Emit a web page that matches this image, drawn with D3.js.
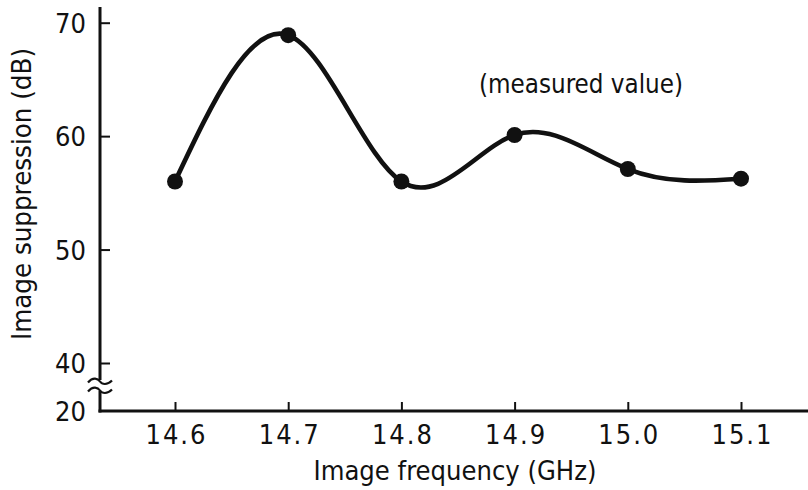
<!DOCTYPE html>
<html>
<head>
<meta charset="utf-8">
<script src="https://cdn.jsdelivr.net/npm/d3@7"></script>
<style>
  html, body { margin: 0; padding: 0; background: #fff; }
  svg { display: block; }
  text { font-family: "DejaVu Sans Condensed", "DejaVu Sans", sans-serif; font-stretch: condensed; fill: #111; }
</style>
</head>
<body>
<svg id="chart" width="808" height="490"></svg>
<script>
// Measured image suppression versus image frequency
const frequencies = [14.6, 14.7, 14.8, 14.9, 15.0, 15.1];      // GHz
const suppression = [56.0, 68.9, 56.0, 60.1, 57.1, 56.25];     // dB
const xTickValues = [14.6, 14.7, 14.8, 14.9, 15.0, 15.1];
const xTickLabels = ["14.6", "14.7", "14.8", "14.9", "15.0", "15.1"];
const yTickValues = [20, 40, 50, 60, 70];
const yTickLabels = ["20", "40", "50", "60", "70"];

const svg = d3.select("#chart");
const W = 808, H = 490;
const axisX = 100, axisY = 411;
const FS = 27;

const x = d3.scaleLinear().domain([14.6, 15.1]).range([175, 741]);
// broken axis: 20 sits right at the origin, the 40–70 span is linear
const y = d3.scaleLinear().domain([20, 40, 70]).range([axisY, 363, 22.7]);

const ink = "#111";

// x axis
const xAxis = d3.axisBottom(x)
  .tickValues(xTickValues)
  .tickFormat((d, i) => xTickLabels[i])
  .tickSize(-9)
  .tickPadding(24);
const gx = svg.append("g").attr("transform", `translate(0,${axisY})`).call(xAxis);
gx.select(".domain").remove();
gx.selectAll(".tick line").attr("stroke", ink).attr("stroke-width", 2);
gx.selectAll(".tick text")
  .style("font-size", FS + "px").attr("dy", "0.35em")
  .attr("textLength", 60).attr("lengthAdjust", "spacing");
svg.append("line")
  .attr("x1", axisX - 1.5).attr("x2", W)
  .attr("y1", axisY).attr("y2", axisY)
  .attr("stroke", ink).attr("stroke-width", 3);

// y axis
const yAxis = d3.axisLeft(y)
  .tickValues(yTickValues)
  .tickFormat((d, i) => yTickLabels[i])
  .tickSize(-10)
  .tickPadding(14);
const gy = svg.append("g").attr("transform", `translate(${axisX},0)`).call(yAxis);
gy.select(".domain").remove();
gy.selectAll(".tick line").attr("stroke", ink).attr("stroke-width", 2)
  .filter(d => d === 20).remove();
gy.selectAll(".tick text").style("font-size", FS + "px").attr("dy", "0.35em");

const breakY = (y(20) + y(40)) / 2 - 1;
// axis line above and below the break
svg.append("line")
  .attr("x1", axisX).attr("x2", axisX)
  .attr("y1", 7).attr("y2", breakY - 6)
  .attr("stroke", ink).attr("stroke-width", 3);
svg.append("line")
  .attr("x1", axisX).attr("x2", axisX)
  .attr("y1", breakY + 5).attr("y2", axisY + 1.5)
  .attr("stroke", ink).attr("stroke-width", 3);

// break marks: two small waves across the axis
[-4.5, 4.5].forEach(off => {
  const cy = breakY + off;
  svg.append("path")
    .attr("d", `M${axisX - 12},${cy + 1} C${axisX - 7},${cy - 5} ${axisX - 2},${cy - 3} ${axisX},${cy}`
      + ` S${axisX + 7},${cy + 4} ${axisX + 12},${cy - 1}`)
    .attr("fill", "none").attr("stroke", ink).attr("stroke-width", 2.2);
});

// axis titles
svg.append("text")
  .attr("x", 455).attr("y", 480)
  .attr("text-anchor", "middle").style("font-size", FS + "px")
  .attr("textLength", 283).attr("lengthAdjust", "spacingAndGlyphs")
  .text("Image frequency (GHz)");
svg.append("text")
  .attr("transform", `translate(31,194) rotate(-90)`)
  .attr("text-anchor", "middle").style("font-size", FS + "px")
  .attr("textLength", 292).attr("lengthAdjust", "spacingAndGlyphs")
  .text("Image suppression (dB)");

// annotation
svg.append("text")
  .attr("x", 581).attr("y", 93)
  .attr("text-anchor", "middle").style("font-size", FS + "px")
  .attr("textLength", 204).attr("lengthAdjust", "spacingAndGlyphs")
  .text("(measured value)");

// measured curve
const pts = frequencies.map((f, i) => [f, suppression[i]]);
const line = d3.line()
  .x(d => x(d[0])).y(d => y(d[1]))
  .curve(d3.curveNatural);
svg.append("path")
  .datum(pts)
  .attr("d", line)
  .attr("fill", "none").attr("stroke", ink)
  .attr("stroke-width", 4.6).attr("stroke-linejoin", "round");

svg.selectAll("circle.pt")
  .data(pts)
  .join("circle")
  .attr("class", "pt")
  .attr("cx", d => x(d[0])).attr("cy", d => y(d[1]))
  .attr("r", 8).attr("fill", ink);
</script>
</body>
</html>
